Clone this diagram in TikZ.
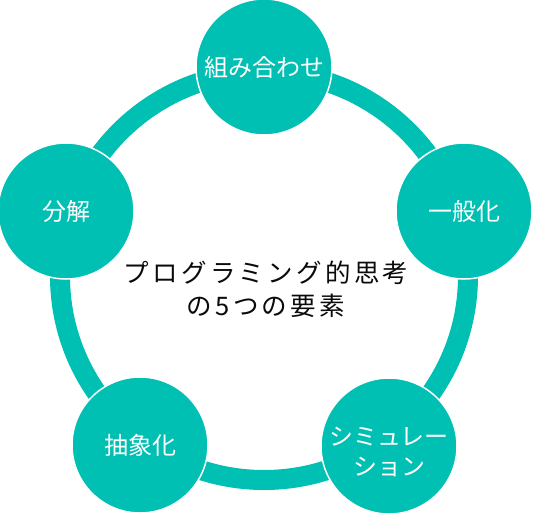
\documentclass[tikz,border=0pt]{standalone}
\usepackage{fontspec}
\newfontfamily\jp{Noto Sans CJK JP}
\newfontfamily\jpsp[LetterSpace=13]{Noto Sans CJK JP}
\definecolor{teal1}{RGB}{0,191,179}
\definecolor{ink}{RGB}{10,10,10}
\begin{document}
\begin{tikzpicture}[x=1pt,y=-1pt,
  ring/.style={draw=teal1,line width=20pt},
  elem/.style={circle,fill=teal1,draw=white,line width=1.5pt,minimum size=136pt,inner sep=0pt,
    text=white,font=\jp\fontsize{24}{30}\selectfont,align=center},
  title/.style={text=ink,font=\jpsp\fontsize{25.5}{33}\selectfont,align=center}]
\useasboundingbox (0,0) rectangle (533,515);
\coordinate (c) at (264,276);
\draw[ring] (c) circle (204);
\node[elem] (kumi) at (264,67) {組み合わせ};
\node[elem] (ippan) at (464,211) {一般化};
\node[elem] (sim) at (389,446) {\rule{0pt}{31pt}シミュレー\\ション};
\node[elem] (chusho) at (140,445) {抽象化};
\node[elem] (bunkai) at (66,211) {分解};
\node[title] (t) at (266,289) {プログラミング的思考\\の5つの要素};
\end{tikzpicture}
\end{document}
